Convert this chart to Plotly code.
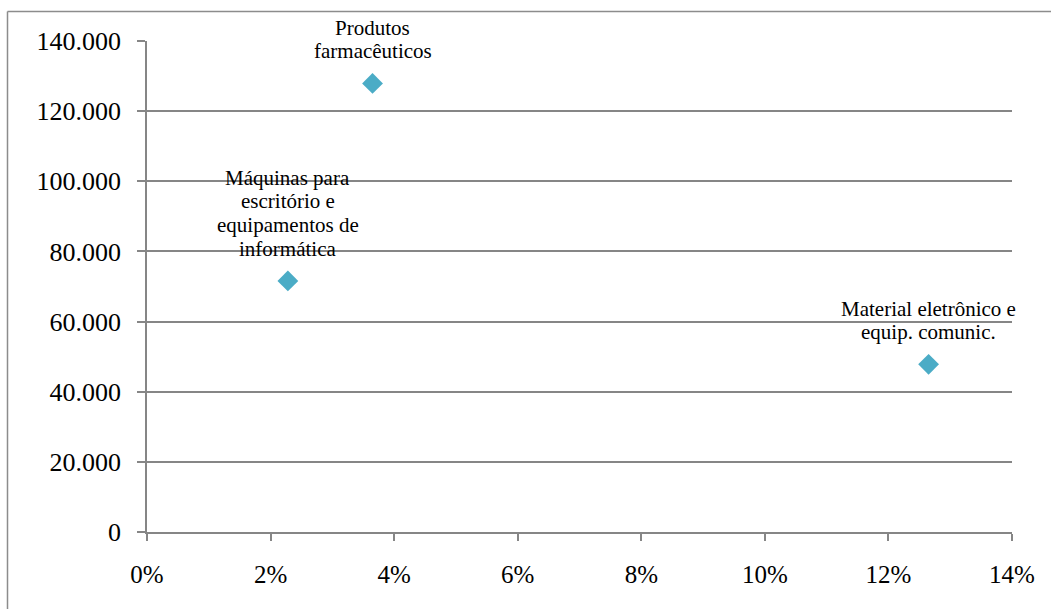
import plotly.graph_objects as go

# Sector data: share (x) vs. value (y)
sectors = [
    "Máquinas para<br>escritório e<br>equipamentos de<br>informática",
    "Produtos<br>farmacêuticos",
    "Material eletrônico e<br>equip. comunic.",
]
share = [0.0228, 0.0365, 0.1265]
value = [71600, 127900, 47800]

x_ticks = [0, 0.02, 0.04, 0.06, 0.08, 0.10, 0.12, 0.14]
y_ticks = [0, 20000, 40000, 60000, 80000, 100000, 120000, 140000]

FONT = "Liberation Serif, Times New Roman, serif"
GRID = "#868686"
W, H = 1051, 609
L, R, T, B = 147, 39, 41, 77

fig = go.Figure()
fig.add_trace(go.Scatter(
    x=share, y=value, mode="markers",
    marker=dict(symbol="diamond", size=16, color="#4BACC6", line=dict(width=0)),
    hoverinfo="skip", showlegend=False,
))

# Labels above each point, one annotation per line for tight line spacing
LINE_GAP = 23.7
for name, xv, yv in zip(sectors, share, value):
    lines = name.split("<br>")
    n = len(lines)
    for i, ln in enumerate(lines):
        fig.add_annotation(
            x=xv, y=yv, text=ln, showarrow=False,
            xanchor="center", yanchor="bottom",
            yshift=18 + (n - 1 - i) * LINE_GAP,
            font=dict(family=FONT, size=21, color="black"),
        )

# Outer frame (top and left edges)
pw = W - L - R
ph = H - T - B
def px_x(p):
    return (p - L) / pw
def px_y(p):
    return (H - B - p) / ph
fig.add_shape(type="line", xref="paper", yref="paper",
              x0=px_x(7.5), x1=px_x(7.5), y0=px_y(620), y1=px_y(11.5),
              line=dict(color="#8c8c8c", width=1.5))
fig.add_shape(type="line", xref="paper", yref="paper",
              x0=px_x(7.5), x1=px_x(1060), y0=px_y(11.5), y1=px_y(11.5),
              line=dict(color="#8c8c8c", width=1.5))

fig.update_layout(
    width=W, height=H,
    margin=dict(l=L, r=R, t=T, b=B),
    paper_bgcolor="white", plot_bgcolor="white",
    separators=",.",
    font=dict(family=FONT, size=25, color="black"),
    xaxis=dict(
        range=[0, 0.14], tickvals=x_ticks, tickformat=".0%",
        showgrid=False, zeroline=False,
        showline=True, linecolor=GRID, linewidth=1.5,
        ticks="outside", ticklen=7, tickcolor=GRID, tickwidth=1.5,
        ticklabelstandoff=12,
        tickfont=dict(family=FONT, size=25, color="black"),
    ),
    yaxis=dict(
        range=[0, 140000], tickvals=y_ticks, tickformat=",.0f",
        showgrid=True, gridcolor=GRID, gridwidth=1.5, zeroline=False,
        showline=True, linecolor=GRID, linewidth=1.5,
        ticks="outside", ticklen=8, tickcolor=GRID, tickwidth=1.5,
        ticklabelstandoff=11,
        tickfont=dict(family=FONT, size=26, color="black"),
    ),
)

fig.write_html("out.html")
